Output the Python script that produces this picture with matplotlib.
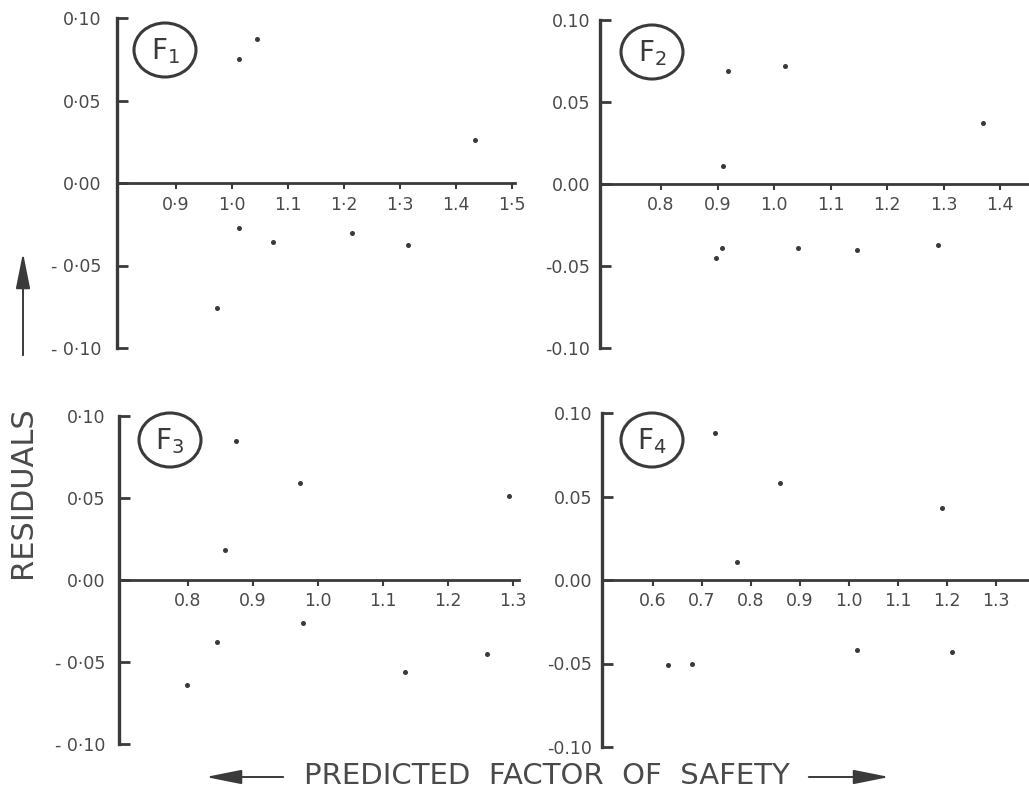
import matplotlib
matplotlib.use("Agg")
import matplotlib.pyplot as plt
from matplotlib.patches import Ellipse, FancyArrowPatch

# ---- data ----
f1_x = [1.012, 1.044, 1.434, 1.012, 1.074, 1.215, 1.315, 0.973]
f1_y = [0.075, 0.0875, 0.026, -0.027, -0.036, -0.030, -0.0375, -0.076]
f2_x = [0.918, 1.020, 1.370, 0.909, 0.908, 0.897, 1.043, 1.147, 1.289]
f2_y = [0.069, 0.072, 0.037, 0.011, -0.039, -0.045, -0.039, -0.040, -0.037]
f3_x = [0.874, 0.972, 1.295, 0.858, 0.977, 0.845, 1.260, 1.135, 0.798]
f3_y = [0.085, 0.059, 0.051, 0.018, -0.026, -0.038, -0.045, -0.056, -0.064]
f4_x = [0.726, 0.859, 1.189, 0.771, 1.016, 1.209, 0.631, 0.679]
f4_y = [0.088, 0.058, 0.043, 0.011, -0.042, -0.043, -0.051, -0.050]

y_ticks = [-0.10, -0.05, 0.00, 0.05, 0.10]
ylabels_dot = ["- 0·10", "- 0·05", "0·00", "0·05", "0·10"]
ylabels_pt = ["-0.10", "-0.05", "0.00", "0.05", "0.10"]

x1_ticks = [0.9, 1.0, 1.1, 1.2, 1.3, 1.4, 1.5]
x1_labels = ["0·9", "1·0", "1.1", "1·2", "1·3", "1.4", "1·5"]
x2_ticks = [0.8, 0.9, 1.0, 1.1, 1.2, 1.3, 1.4]
x2_labels = ["0.8", "0.9", "1.0", "1.1", "1.2", "1.3", "1.4"]
x3_ticks = [0.8, 0.9, 1.0, 1.1, 1.2, 1.3]
x3_labels = ["0.8", "0.9", "1.0", "1.1", "1.2", "1.3"]
x4_ticks = [0.6, 0.7, 0.8, 0.9, 1.0, 1.1, 1.2, 1.3]
x4_labels = ["0.6", "0.7", "0.8", "0.9", "1.0", "1.1", "1.2", "1.3"]

panel_names = ["F$_1$", "F$_2$", "F$_3$", "F$_4$"]

# ---- figure ----
W, H = 1029, 794
fig = plt.figure(figsize=(W / 100, H / 100), dpi=100)
plt.rcParams['font.family'] = ['DejaVu Sans']
INK = "#3a3a3a"
TXT = "#4a4a4a"

def px_rect(left, top, right, bottom):
    return [left / W, 1 - bottom / H, (right - left) / W, (bottom - top) / H]

panels = [
    dict(rect=px_rect(117, 18, 515, 348), x=f1_x, y=f1_y, xlim=(0.795, 1.505),
         xt=x1_ticks, xl=x1_labels, yl=ylabels_dot, circ=(165, 50), ypad=11),
    dict(rect=px_rect(600, 20, 1028, 348), x=f2_x, y=f2_y, xlim=(0.692, 1.449),
         xt=x2_ticks, xl=x2_labels, yl=ylabels_pt, circ=(652, 52), ypad=7),
    dict(rect=px_rect(119, 416, 519, 744), x=f3_x, y=f3_y, xlim=(0.694, 1.31),
         xt=x3_ticks, xl=x3_labels, yl=ylabels_dot, circ=(170, 440), ypad=10),
    dict(rect=px_rect(602, 413, 1028, 747), x=f4_x, y=f4_y, xlim=(0.496, 1.365),
         xt=x4_ticks, xl=x4_labels, yl=ylabels_pt, circ=(652, 440), ypad=7),
]

for p, name in zip(panels, panel_names):
    ax = fig.add_axes(p["rect"])
    ax.scatter(p["x"], p["y"], s=13, color=INK, zorder=3, linewidths=0)
    ax.set_xlim(*p["xlim"])
    ax.set_ylim(-0.10, 0.10)
    for s in ("top", "right"):
        ax.spines[s].set_visible(False)
    ax.spines["left"].set_linewidth(2.4)
    ax.spines["left"].set_color(INK)
    ax.spines["bottom"].set_position(("data", 0))
    ax.spines["bottom"].set_linewidth(2.0)
    ax.spines["bottom"].set_color(INK)
    ax.set_yticks(y_ticks)
    ax.set_yticklabels(p["yl"])
    ax.set_xticks(p["xt"])
    ax.set_xticklabels(p["xl"])
    ax.tick_params(axis="y", direction="in", length=8, width=2.0, color=INK,
                   labelsize=12.5, labelcolor=TXT, pad=p["ypad"])
    ax.tick_params(axis="x", direction="out", length=4, width=1.5, color=INK,
                   labelsize=12.5, labelcolor=TXT, pad=5)
    ax.patch.set_visible(False)
    cx, cy = p["circ"]
    fig.add_artist(Ellipse((cx / W, 1 - cy / H), 62 / W, 54 / H,
                           transform=fig.transFigure, fill=False,
                           edgecolor=INK, linewidth=2.2))
    fig.text(cx / W, 1 - (cy + 1) / H, name, ha="center", va="center",
             fontsize=20, color=INK, math_fontfamily="dejavusans")

# axis titles
fig.text(23 / W, 1 - 492 / H, "RESIDUALS", rotation=90, ha="center",
         va="center", fontsize=22, color=TXT)
fig.add_artist(FancyArrowPatch(
    (23 / W, 1 - 358 / H), (23 / W, 1 - 250 / H), transform=fig.transFigure,
    arrowstyle="-|>,head_length=1.1,head_width=0.22", color=INK, linewidth=1.4,
    mutation_scale=20))

fig.text(547 / W, 1 - 776 / H, "PREDICTED  FACTOR  OF  SAFETY", ha="center",
         va="center", fontsize=21, color=TXT)
fig.add_artist(FancyArrowPatch(
    (286 / W, 1 - 777 / H), (203 / W, 1 - 777 / H), transform=fig.transFigure,
    arrowstyle="-|>,head_length=1.1,head_width=0.22", color=INK, linewidth=1.4,
    mutation_scale=20))
fig.add_artist(FancyArrowPatch(
    (806 / W, 1 - 777 / H), (892 / W, 1 - 777 / H), transform=fig.transFigure,
    arrowstyle="-|>,head_length=1.1,head_width=0.22", color=INK, linewidth=1.4,
    mutation_scale=20))

fig.savefig("out.png", dpi=100, facecolor="white")
